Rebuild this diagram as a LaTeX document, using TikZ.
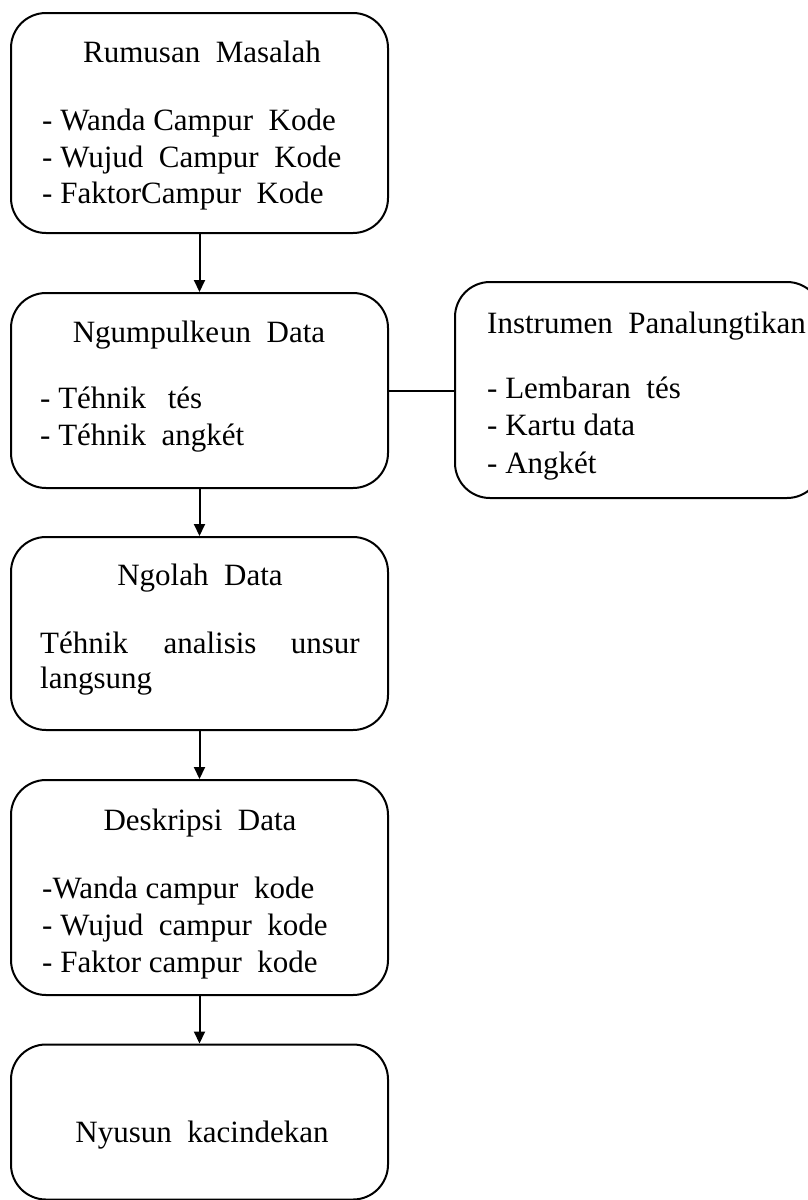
\documentclass[tikz,border=0pt]{standalone}
\usepackage{fontspec}
\setmainfont{Liberation Serif}
\usetikzlibrary{arrows.meta}
\begin{document}
\begin{tikzpicture}[x=1pt,y=-1pt,
  box/.style={draw, line width=2pt, rounded corners=35pt, minimum width=377pt, inner sep=0pt},
  txt/.style={font=\fontsize{31}{37}\selectfont, inner sep=0pt},
  arr/.style={line width=2pt, -{Triangle[length=12pt,width=11pt]}},
  conn/.style={line width=2pt}]
\useasboundingbox (0,0) rectangle (808,1200);
\clip (0,0) rectangle (808,1200);
% boxes
\node[box, minimum height=220pt] (b1) at (199.5,123) {};
\node[box, minimum height=195pt] (b2) at (199.5,390.5) {};
\node[box, minimum height=193pt] (b3) at (199.5,633.5) {};
\node[box, minimum height=215pt] (b4) at (199.5,887.5) {};
\node[box, minimum height=155pt] (b5) at (199.5,1122) {};
\node[box, minimum width=367pt, minimum height=216pt] (rb) at (638.5,390) {};
% box 1
\node[txt, anchor=base] (t1) at (202,62) {Rumusan\ \ Masalah};
\node[txt, anchor=base west] (t1a) at (42,130) {- Wanda Campur\ \ Kode};
\node[txt, anchor=base west] (t1b) at (42,167) {- Wujud\ \ Campur\ \ Kode};
\node[txt, anchor=base west] (t1c) at (42,203) {- FaktorCampur\ \ Kode};
% box 2
\node[txt, anchor=base] (t2) at (199,342) {Ngumpulke\hspace{1pt}un\ \ Data};
\node[txt, anchor=base west] (t2a) at (40,408) {- Téhnik\hspace{14pt} tés};
\node[txt, anchor=base west] (t2b) at (40,445) {- Téhnik\ \ angkét};
% right box
\node[txt, anchor=base west] (tr) at (487,333) {Instrumen\ \ Panalungtikan};
\node[txt, anchor=base west] (tra) at (487,398) {- Lembaran\ \ tés};
\node[txt, anchor=base west] (trb) at (487,435) {- Kartu data};
\node[txt, anchor=base west] (trc) at (487,473) {- Angkét};
% box 3
\node[txt, anchor=base] (t3) at (200,585) {Ngolah\ \ Data};
\node[txt, anchor=base west] (t3a) at (40,653) {Téhnik};
\node[txt, anchor=base] (t3b) at (210,653) {analisis};
\node[txt, anchor=base east] (t3c) at (360,653) {unsur};
\node[txt, anchor=base west] (t3d) at (40,688) {langsung};
% box 4
\node[txt, anchor=base] (t4) at (200,830) {Deskripsi\ \ Data};
\node[txt, anchor=base west] (t4a) at (42,898) {-Wanda campur\ \ kode};
\node[txt, anchor=base west] (t4b) at (42,935) {- Wujud\ \ campur\ \ kode};
\node[txt, anchor=base west] (t4c) at (42,972) {- Faktor campur\ \ kode};
% box 5
\node[txt, anchor=base] (t5) at (202,1142) {Nyusun\ \ kacindekan};
% connectors
\draw[arr] (b1.south) -- (b2.north);
\draw[arr] (b2.south) -- (b3.north);
\draw[arr] (b3.south) -- (b4.north);
\draw[arr] (b4.south) -- (b5.north);
\draw[conn] (b2.east) -- (b2.east -| rb.west);
\end{tikzpicture}
\end{document}
